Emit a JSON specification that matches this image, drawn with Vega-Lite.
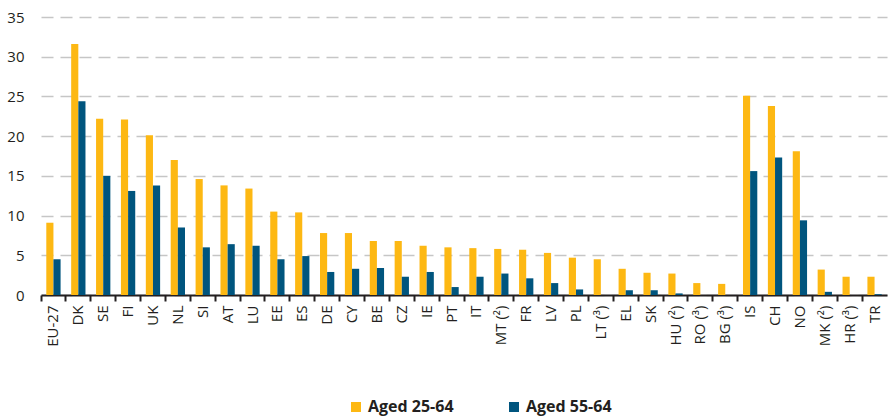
{
  "$schema": "https://vega.github.io/schema/vega-lite/v6.json",
  "width": 846,
  "height": 278,
  "autosize": {"type": "none"},
  "padding": {"left": 41, "top": 17, "right": 2, "bottom": 124},
  "background": "white",
  "data": {"values": [
    {"c": "EU-27", "s": "Aged 25-64", "v": 9.1}, {"c": "EU-27", "s": "Aged 55-64", "v": 4.5},
    {"c": "DK", "s": "Aged 25-64", "v": 31.6}, {"c": "DK", "s": "Aged 55-64", "v": 24.4},
    {"c": "SE", "s": "Aged 25-64", "v": 22.2}, {"c": "SE", "s": "Aged 55-64", "v": 15.0},
    {"c": "FI", "s": "Aged 25-64", "v": 22.1}, {"c": "FI", "s": "Aged 55-64", "v": 13.1},
    {"c": "UK", "s": "Aged 25-64", "v": 20.1}, {"c": "UK", "s": "Aged 55-64", "v": 13.8},
    {"c": "NL", "s": "Aged 25-64", "v": 17.0}, {"c": "NL", "s": "Aged 55-64", "v": 8.5},
    {"c": "SI", "s": "Aged 25-64", "v": 14.6}, {"c": "SI", "s": "Aged 55-64", "v": 6.0},
    {"c": "AT", "s": "Aged 25-64", "v": 13.8}, {"c": "AT", "s": "Aged 55-64", "v": 6.4},
    {"c": "LU", "s": "Aged 25-64", "v": 13.4}, {"c": "LU", "s": "Aged 55-64", "v": 6.2},
    {"c": "EE", "s": "Aged 25-64", "v": 10.5}, {"c": "EE", "s": "Aged 55-64", "v": 4.5},
    {"c": "ES", "s": "Aged 25-64", "v": 10.4}, {"c": "ES", "s": "Aged 55-64", "v": 4.9},
    {"c": "DE", "s": "Aged 25-64", "v": 7.8}, {"c": "DE", "s": "Aged 55-64", "v": 2.9},
    {"c": "CY", "s": "Aged 25-64", "v": 7.8}, {"c": "CY", "s": "Aged 55-64", "v": 3.3},
    {"c": "BE", "s": "Aged 25-64", "v": 6.8}, {"c": "BE", "s": "Aged 55-64", "v": 3.4},
    {"c": "CZ", "s": "Aged 25-64", "v": 6.8}, {"c": "CZ", "s": "Aged 55-64", "v": 2.3},
    {"c": "IE", "s": "Aged 25-64", "v": 6.2}, {"c": "IE", "s": "Aged 55-64", "v": 2.9},
    {"c": "PT", "s": "Aged 25-64", "v": 6.0}, {"c": "PT", "s": "Aged 55-64", "v": 1.0},
    {"c": "IT", "s": "Aged 25-64", "v": 5.9}, {"c": "IT", "s": "Aged 55-64", "v": 2.3},
    {"c": "MT (²)", "s": "Aged 25-64", "v": 5.8}, {"c": "MT (²)", "s": "Aged 55-64", "v": 2.7},
    {"c": "FR", "s": "Aged 25-64", "v": 5.7}, {"c": "FR", "s": "Aged 55-64", "v": 2.1},
    {"c": "LV", "s": "Aged 25-64", "v": 5.3}, {"c": "LV", "s": "Aged 55-64", "v": 1.5},
    {"c": "PL", "s": "Aged 25-64", "v": 4.7}, {"c": "PL", "s": "Aged 55-64", "v": 0.7},
    {"c": "LT (³)", "s": "Aged 25-64", "v": 4.5},
    {"c": "EL", "s": "Aged 25-64", "v": 3.3}, {"c": "EL", "s": "Aged 55-64", "v": 0.6},
    {"c": "SK", "s": "Aged 25-64", "v": 2.8}, {"c": "SK", "s": "Aged 55-64", "v": 0.6},
    {"c": "HU (²)", "s": "Aged 25-64", "v": 2.7}, {"c": "HU (²)", "s": "Aged 55-64", "v": 0.2},
    {"c": "RO (³)", "s": "Aged 25-64", "v": 1.5},
    {"c": "BG (³)", "s": "Aged 25-64", "v": 1.4},
    {"c": "IS", "s": "Aged 25-64", "v": 25.1}, {"c": "IS", "s": "Aged 55-64", "v": 15.6},
    {"c": "CH", "s": "Aged 25-64", "v": 23.8}, {"c": "CH", "s": "Aged 55-64", "v": 17.3},
    {"c": "NO", "s": "Aged 25-64", "v": 18.1}, {"c": "NO", "s": "Aged 55-64", "v": 9.4},
    {"c": "MK (²)", "s": "Aged 25-64", "v": 3.2}, {"c": "MK (²)", "s": "Aged 55-64", "v": 0.4},
    {"c": "HR (³)", "s": "Aged 25-64", "v": 2.3},
    {"c": "TR", "s": "Aged 25-64", "v": 2.3}, {"c": "TR", "s": "Aged 55-64", "v": 0.1}
  ]},
  "mark": {"type": "bar"},
  "encoding": {
    "x": {
      "field": "c", "type": "nominal", "sort": null, "title": null,
      "scale": {"paddingInner": 0, "paddingOuter": 0},
      "axis": {
        "labelAngle": -90, "labelFont": "Open Sans", "labelFontSize": 15, "labelColor": "#231f20",
        "labelPadding": 4, "bandPosition": 0, "tickSize": 6, "tickWidth": 2, "tickColor": "#231f20",
        "domainColor": "#231f20", "domainWidth": 2, "grid": false
      }
    },
    "xOffset": {
      "field": "s", "type": "nominal",
      "scale": {"paddingInner": 0, "paddingOuter": 0.74}
    },
    "y": {
      "field": "v", "type": "quantitative", "title": null,
      "scale": {"domain": [0, 35], "nice": false},
      "axis": {
        "values": [0, 5, 10, 15, 20, 25, 30, 35], "domain": false, "ticks": false,
        "labelFont": "Open Sans", "labelFontSize": 15, "labelColor": "#231f20", "labelPadding": 17,
        "grid": true, "gridColor": "#c6c6c6", "gridDash": [12, 7], "gridWidth": 1.5
      }
    },
    "color": {
      "field": "s", "type": "nominal", "title": null,
      "scale": {"domain": ["Aged 25-64", "Aged 55-64"], "range": ["#FDB813", "#00557E"]},
      "legend": {
        "orient": "none", "legendX": 307, "legendY": 382, "direction": "horizontal",
        "symbolType": "square", "symbolSize": 100, "symbolStrokeWidth": 0,
        "labelFont": "Open Sans", "labelFontSize": 16, "labelFontWeight": "bold", "labelColor": "#231f20",
        "columnPadding": 52
      }
    }
  },
  "config": {"view": {"stroke": null}}
}
